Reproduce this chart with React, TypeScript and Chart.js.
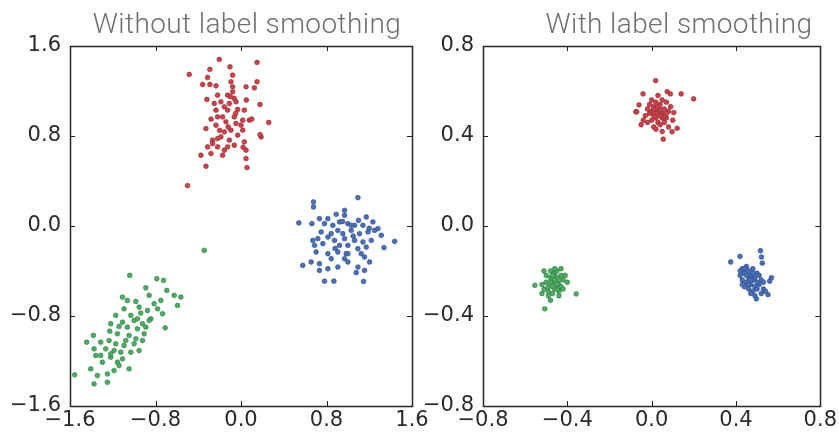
import { useEffect, useRef } from "react";
import { Chart, registerables } from "chart.js";

Chart.register(...registerables);

type P = [number, number];

// ---------- Panel 1: Without label smoothing ----------
const leftTitle = "Without label smoothing";
const leftXTicks = [-1.6, -0.8, 0.0, 0.8, 1.6];
const leftYTicks = [-1.6, -0.8, 0.0, 0.8, 1.6];

const leftRed: P[] = [
  [-0.203, 1.481], [-0.484, 1.347], [-0.103, 1.415], [0.15, 1.454], [-0.291, 1.392],
  [-0.078, 1.341], [-0.313, 1.32], [-0.359, 1.258], [-0.291, 1.258], [-0.234, 1.246],
  [-0.094, 1.282], [0.047, 1.237], [0.125, 1.228], [0.15, 1.282], [-0.319, 1.125],
  [-0.219, 1.163], [-0.188, 1.104], [-0.063, 1.134], [-0.078, 1.193], [-0.047, 1.104],
  [-0.109, 1.089], [-0.156, 1.059], [-0.234, 1.03], [-0.125, 1.03], [-0.031, 1.036],
  [0.178, 1.08], [0.031, 1.03], [-0.219, 0.97], [-0.172, 0.97], [-0.063, 0.97],
  [0.016, 0.941], [0.078, 0.941], [0.259, 0.92], [-0.328, 0.866], [-0.234, 0.896],
  [-0.094, 0.852], [-0.047, 0.911], [0.0, 0.896], [-0.156, 0.837], [-0.188, 0.792],
  [-0.031, 0.807], [0.188, 0.792], [0.178, 0.813], [-0.266, 0.763], [-0.219, 0.777],
  [-0.109, 0.763], [0.031, 0.748], [-0.313, 0.703], [-0.219, 0.703], [-0.156, 0.674],
  [-0.125, 0.703], [-0.063, 0.718], [-0.281, 0.644], [-0.172, 0.629], [0.047, 0.674],
  [-0.375, 0.629], [0.047, 0.599], [-0.328, 0.531], [0.056, 0.519], [-0.5, 0.359],
  [-0.266, 0.733], [-0.078, 1.237], [-0.125, 1.163], [-0.25, 1.089], [0.016, 0.852],
  [-0.141, 0.926], [-0.1, 1.15], [-0.05, 1.0], [-0.2, 0.85], [0.1, 0.95],
  [-0.12, 0.88], [0.05, 1.12], [-0.28, 0.95], [0.02, 0.7],
];

const leftBlue: P[] = [
  [1.094, 0.252], [0.678, 0.214], [0.678, 0.169], [0.969, 0.139], [0.891, 0.104],
  [0.813, 0.065], [0.969, 0.095], [1.172, 0.08], [1.234, 0.036], [0.541, 0.027],
  [0.663, 0.021], [0.734, 0.065], [0.781, 0.021], [0.859, 0.006], [0.922, 0.036],
  [1.0, 0.021], [1.063, 0.006], [1.141, 0.006], [1.25, -0.039], [1.281, -0.024],
  [0.906, -0.039], [1.031, -0.039], [1.109, -0.068], [1.188, -0.053], [0.672, -0.128],
  [0.719, -0.113], [0.813, -0.098], [0.875, -0.128], [0.969, -0.113], [1.063, -0.128],
  [1.141, -0.142], [1.219, -0.128], [1.438, -0.136], [1.338, -0.193], [0.688, -0.172],
  [0.766, -0.157], [0.922, -0.172], [1.0, -0.172], [1.094, -0.202], [1.172, -0.187],
  [0.703, -0.231], [0.813, -0.246], [0.906, -0.231], [0.984, -0.246], [1.156, -0.276],
  [0.844, -0.291], [0.969, -0.291], [1.203, -0.32], [0.578, -0.35], [0.656, -0.32],
  [0.734, -0.335], [1.0, -0.32], [1.094, -0.365], [0.813, -0.38], [0.734, -0.395],
  [1.078, -0.415], [1.156, -0.395], [0.781, -0.49], [0.869, -0.49], [1.147, -0.493],
  [1.031, 0.006], [0.953, -0.068], [0.844, -0.068], [0.75, -0.053], [1.313, -0.083],
  [1.0, -0.246], [1.125, -0.246], [0.906, -0.365], [1.05, -0.09], [0.95, 0.04],
  [1.2, -0.02], [0.88, -0.2], [1.1, 0.05],
];

const leftGreen: P[] = [
  [-1.041, -0.439], [-0.788, -0.469], [-0.725, -0.484], [-0.891, -0.549], [-0.694, -0.573],
  [-0.625, -0.617], [-0.563, -0.632], [-1.109, -0.632], [-1.063, -0.662], [-0.984, -0.671],
  [-0.859, -0.617], [-0.75, -0.662], [-0.594, -0.706], [-0.953, -0.721], [-1.094, -0.736],
  [-0.875, -0.751], [-0.781, -0.736], [-1.172, -0.795], [-1.031, -0.795], [-0.938, -0.774],
  [-0.734, -0.78], [-1.109, -0.855], [-1.0, -0.84], [-0.922, -0.869], [-0.844, -0.825],
  [-1.219, -0.869], [-1.141, -0.893], [-1.063, -0.899], [-0.969, -0.914], [-0.891, -0.899],
  [-0.709, -0.905], [-1.228, -0.935], [-1.156, -0.958], [-1.047, -0.973], [-0.984, -1.003],
  [-0.906, -0.958], [-1.381, -0.973], [-1.444, -1.033], [-1.313, -1.033], [-1.234, -1.018],
  [-1.172, -1.047], [-1.094, -1.062], [-1.0, -1.047], [-1.375, -1.092], [-1.266, -1.092],
  [-1.188, -1.107], [-1.125, -1.122], [-1.031, -1.122], [-0.953, -1.107], [-1.359, -1.151],
  [-1.219, -1.166], [-1.156, -1.211], [-1.109, -1.181], [-1.297, -1.211], [-1.047, -1.27],
  [-1.406, -1.27], [-1.344, -1.329], [-1.25, -1.315], [-1.556, -1.323], [-1.375, -1.404],
  [-1.25, -1.389], [-1.141, -1.24], [-1.188, -1.285], [-0.813, -0.691], [-0.859, -0.84],
  [-0.969, -0.825], [-1.078, -1.018], [-1.219, -1.137], [-1.313, -1.151], [-0.922, -1.018],
  [-0.344, -0.217],
];

// ---------- Panel 2: With label smoothing ----------
const rightTitle = "With label smoothing";
const rightXTicks = [-0.8, -0.4, 0.0, 0.4, 0.8];
const rightYTicks = [-0.8, -0.4, 0.0, 0.4, 0.8];

const rightRed: P[] = [
  [0.019, 0.646], [-0.041, 0.587], [0.074, 0.597], [0.089, 0.587], [0.14, 0.587],
  [0.199, 0.565], [-0.06, 0.538], [-0.075, 0.508], [0.105, 0.504], [0.121, 0.434],
  [0.097, 0.419], [0.055, 0.386], [-0.071, 0.507],
  [0.03, 0.51], [0.01, 0.53], [0.05, 0.5], [0.02, 0.48], [-0.01, 0.5], [0.04, 0.54],
  [0.06, 0.52], [0.0, 0.47], [0.03, 0.46], [0.07, 0.48], [-0.02, 0.52], [0.02, 0.55],
  [0.05, 0.56], [0.08, 0.51], [-0.03, 0.49], [0.01, 0.44], [0.04, 0.45], [0.06, 0.46],
  [0.09, 0.53], [-0.04, 0.47], [0.0, 0.56], [0.03, 0.58], [0.07, 0.55], [0.02, 0.5],
  [0.04, 0.52], [0.01, 0.49], [0.05, 0.48], [-0.01, 0.54], [0.06, 0.49], [0.03, 0.53],
  [-0.05, 0.45], [0.08, 0.44], [0.1, 0.47], [0.0, 0.51], [0.02, 0.43], [0.05, 0.42],
  [-0.02, 0.46], [0.07, 0.5], [0.04, 0.49], [0.01, 0.52],
];

const rightGreen: P[] = [
  [-0.554, -0.264], [-0.358, -0.302], [-0.507, -0.368], [-0.511, -0.2],
  [-0.47, -0.25], [-0.45, -0.23], [-0.49, -0.27], [-0.46, -0.21], [-0.44, -0.26],
  [-0.48, -0.23], [-0.5, -0.25], [-0.43, -0.22], [-0.46, -0.28], [-0.42, -0.24],
  [-0.51, -0.28], [-0.47, -0.3], [-0.45, -0.2], [-0.44, -0.29], [-0.49, -0.31],
  [-0.43, -0.27], [-0.41, -0.22], [-0.48, -0.2], [-0.52, -0.26], [-0.46, -0.24],
  [-0.45, -0.26], [-0.47, -0.22], [-0.5, -0.22], [-0.42, -0.28], [-0.48, -0.33],
  [-0.44, -0.31], [-0.4, -0.25], [-0.46, -0.19], [-0.43, -0.19], [-0.52, -0.3],
  [-0.49, -0.29], [-0.47, -0.27], [-0.45, -0.28], [-0.44, -0.24], [-0.48, -0.25],
];

const rightBlue: P[] = [
  [0.375, -0.16], [0.419, -0.135], [0.516, -0.11], [0.521, -0.138], [0.525, -0.165],
  [0.568, -0.23], [0.56, -0.245], [0.552, -0.305], [0.497, -0.324],
  [0.43, -0.19], [0.44, -0.21], [0.45, -0.18], [0.46, -0.2], [0.47, -0.22],
  [0.48, -0.19], [0.49, -0.23], [0.5, -0.21], [0.42, -0.22], [0.43, -0.24],
  [0.45, -0.25], [0.46, -0.23], [0.47, -0.26], [0.48, -0.24], [0.49, -0.27],
  [0.44, -0.27], [0.46, -0.28], [0.48, -0.29], [0.5, -0.28], [0.51, -0.26],
  [0.52, -0.3], [0.53, -0.28], [0.44, -0.19], [0.42, -0.2], [0.45, -0.22],
  [0.47, -0.24], [0.51, -0.22], [0.5, -0.25], [0.49, -0.31], [0.54, -0.29],
  [0.43, -0.26], [0.46, -0.26], [0.48, -0.21], [0.52, -0.24], [0.47, -0.3],
  [0.53, -0.25],
];

const RED = "#c9434b";
const RED_EDGE = "#8e2a31";
const BLUE = "#4a6fb5";
const BLUE_EDGE = "#2c4c88";
const GREEN = "#4eab62";
const GREEN_EDGE = "#2f7a43";

const fmt = (v: number) => {
  const s = Math.abs(v) < 1e-9 ? "0.0" : v.toFixed(1);
  return s.replace("-", "\u2212");
};

const framePlugin = {
  id: "frameTicks",
  afterDraw(chart: any) {
    const { ctx, chartArea: a, scales } = chart;
    const L = 5;
    ctx.save();
    ctx.strokeStyle = "#1f1f1f";
    ctx.lineWidth = 1;
    const line = (x1: number, y1: number, x2: number, y2: number) => {
      ctx.beginPath();
      ctx.moveTo(x1, y1);
      ctx.lineTo(x2, y2);
      ctx.stroke();
    };
    scales.x.ticks.forEach((t: any) => {
      const px = Math.round(scales.x.getPixelForValue(t.value)) + 0.5;
      line(px, a.bottom, px, a.bottom - L);
      line(px, a.top, px, a.top + L);
    });
    scales.y.ticks.forEach((t: any) => {
      const py = Math.round(scales.y.getPixelForValue(t.value)) + 0.5;
      line(a.left, py, a.left + L, py);
      line(a.right, py, a.right - L, py);
    });
    ctx.lineWidth = 1.5;
    ctx.strokeStyle = "#262626";
    ctx.strokeRect(
      Math.round(a.left) + 0.5,
      Math.round(a.top) + 0.5,
      Math.round(a.right - a.left),
      Math.round(a.bottom - a.top)
    );
    ctx.restore();
  },
};

type PanelCfg = {
  red: P[];
  blue: P[];
  green: P[];
  xTicks: number[];
  yTicks: number[];
  padding: { left: number; right: number; top: number; bottom: number };
  yWidth: number;
};

const toXY = (arr: P[]) => arr.map(([x, y]) => ({ x, y }));

const ds = (label: string, arr: P[], fill: string, edge: string) => ({
  label,
  data: toXY(arr),
  backgroundColor: fill,
  borderColor: edge,
  borderWidth: 0.6,
  pointRadius: 2.4,
  pointHoverRadius: 2.4,
});

function Panel({ cfg }: { cfg: PanelCfg }) {
  const ref = useRef<HTMLCanvasElement | null>(null);
  useEffect(() => {
    if (!ref.current) return;
    const tickFont = { family: "'DejaVu Sans', sans-serif", size: 21 };
    const chart = new Chart(ref.current, {
      type: "scatter",
      data: {
        datasets: [
          ds("red", cfg.red, RED, RED_EDGE),
          ds("blue", cfg.blue, BLUE, BLUE_EDGE),
          ds("green", cfg.green, GREEN, GREEN_EDGE),
        ],
      },
      options: {
        animation: false,
        responsive: true,
        maintainAspectRatio: false,
        layout: { padding: cfg.padding },
        plugins: {
          legend: { display: false },
          tooltip: { enabled: false },
          title: { display: false },
        },
        scales: {
          x: {
            type: "linear",
            position: "bottom",
            min: cfg.xTicks[0],
            max: cfg.xTicks[cfg.xTicks.length - 1],
            grid: { display: false, drawTicks: false },
            border: { display: false },
            afterBuildTicks: (s: any) => {
              s.ticks = cfg.xTicks.map((v) => ({ value: v }));
            },
            afterFit: (s: any) => {
              s.height = 30;
            },
            ticks: {
              autoSkip: false,
              maxRotation: 0,
              padding: 2,
              color: "#2a2a2a",
              font: tickFont,
              callback: (v: any) => fmt(Number(v)),
            },
          },
          y: {
            type: "linear",
            position: "left",
            min: cfg.yTicks[0],
            max: cfg.yTicks[cfg.yTicks.length - 1],
            grid: { display: false, drawTicks: false },
            border: { display: false },
            afterBuildTicks: (s: any) => {
              s.ticks = cfg.yTicks.map((v) => ({ value: v }));
            },
            afterFit: (s: any) => {
              s.width = cfg.yWidth;
            },
            ticks: {
              autoSkip: false,
              padding: 9,
              color: "#2a2a2a",
              font: tickFont,
              callback: (v: any) => fmt(Number(v)),
            },
          },
        },
      },
      plugins: [framePlugin],
    });
    return () => chart.destroy();
  }, [cfg]);
  return (
    <div style={{ position: "absolute", left: 0, top: 0, width: 839, height: 436 }}>
      <canvas ref={ref} />
    </div>
  );
}

const leftCfg: PanelCfg = {
  red: leftRed,
  blue: leftBlue,
  green: leftGreen,
  xTicks: leftXTicks,
  yTicks: leftYTicks,
  padding: { left: 0, right: 427, top: 46, bottom: 0 },
  yWidth: 70,
};

const rightCfg: PanelCfg = {
  red: rightRed,
  blue: rightBlue,
  green: rightGreen,
  xTicks: rightXTicks,
  yTicks: rightYTicks,
  padding: { left: 420, right: 16, top: 46, bottom: 0 },
  yWidth: 63,
};

const titleStyle = (center: number): React.CSSProperties => ({
  position: "absolute",
  left: center - 250,
  width: 500,
  top: 8,
  textAlign: "center",
  fontFamily: "Roboto, 'Noto Sans', sans-serif",
  fontWeight: 300,
  fontSize: 28,
  letterSpacing: "0.4px",
  lineHeight: "32px",
  color: "#6f6f6f",
  whiteSpace: "nowrap",
  pointerEvents: "none",
});

export default function App() {
  return (
    <div
      style={{
        position: "absolute",
        left: 0,
        top: 0,
        width: 839,
        height: 436,
        background: "#ffffff",
        overflow: "hidden",
      }}
    >
      <Panel cfg={leftCfg} />
      <Panel cfg={rightCfg} />
      <div style={titleStyle(247)}>{leftTitle}</div>
      <div style={titleStyle(679)}>{rightTitle}</div>
    </div>
  );
}
